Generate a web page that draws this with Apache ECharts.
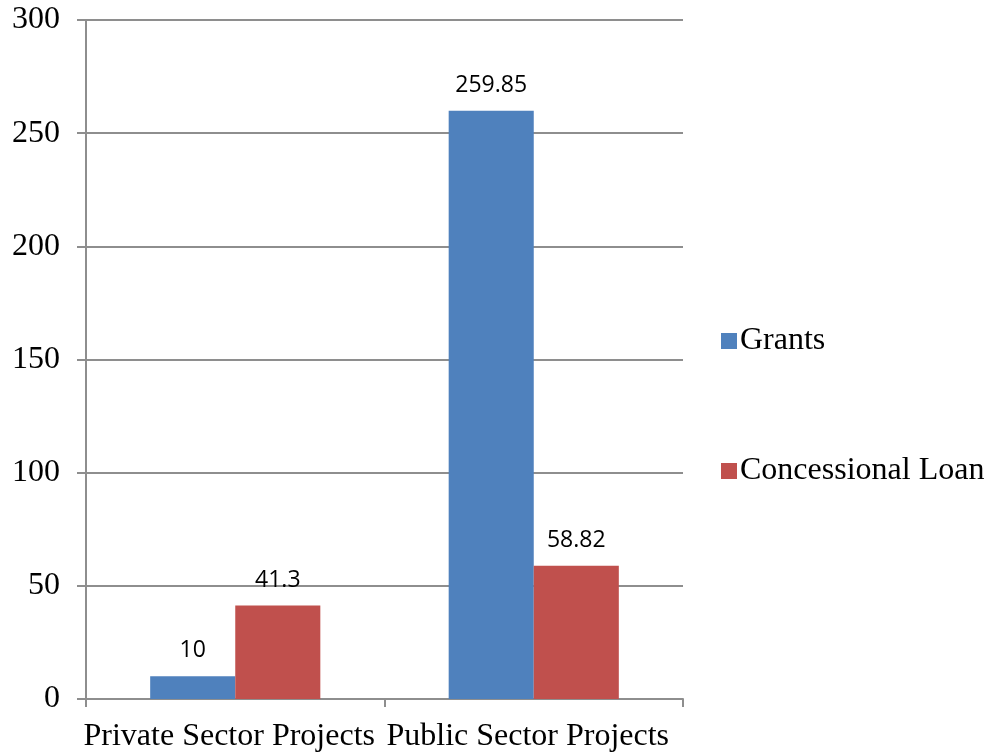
<!DOCTYPE html>
<html>
<head>
<meta charset="utf-8">
<script src="https://cdn.jsdelivr.net/npm/echarts@6/dist/echarts.min.js"></script>
<style>
  html, body { margin: 0; padding: 0; background: #fff; }
  #chart { width: 986px; height: 753px; }
</style>
</head>
<body>
<div id="chart"></div>
<script>
// Funding by project type
const categories = ['Private Sector Projects', 'Public Sector Projects'];
const grants = [10, 259.85];
const concessionalLoan = [41.3, 58.82];
const yTicks = [0, 50, 100, 150, 200, 250, 300];

const serif = '"Liberation Serif", "Times New Roman", serif';
const sans = '"Open Sans", "Liberation Sans", sans-serif';
const lineColor = '#8e8e8e';

const chart = echarts.init(document.getElementById('chart'));

const barLabel = {
  show: true,
  position: 'top',
  distance: 14,
  fontFamily: sans,
  fontSize: 23,
  color: '#000'
};

const legendText = { fontFamily: serif, fontSize: 32, color: '#000', padding: [0, 0, 0, -2] };

chart.setOption({
  animation: false,
  backgroundColor: '#fff',
  grid: { left: 86, right: 303, top: 20, bottom: 54, containLabel: false },
  legend: [
    {
      data: ['Grants'],
      left: 716, top: 320,
      itemWidth: 16, itemHeight: 16, itemGap: 0,
      icon: 'rect',
      textStyle: legendText
    },
    {
      data: ['Concessional Loan'],
      left: 716, top: 450,
      itemWidth: 16, itemHeight: 16, itemGap: 0,
      icon: 'rect',
      textStyle: legendText
    }
  ],
  xAxis: {
    type: 'category',
    data: categories,
    axisLine: { show: true, lineStyle: { color: lineColor, width: 2 } },
    axisTick: { show: true, length: 8, alignWithLabel: false, lineStyle: { color: lineColor, width: 2 } },
    axisLabel: {
      fontFamily: serif, fontSize: 32, color: '#000', margin: 22, interval: 0,
      padding: [0, 12, 0, 0]
    }
  },
  yAxis: {
    type: 'value',
    min: yTicks[0],
    max: yTicks[yTicks.length - 1],
    interval: yTicks[1] - yTicks[0],
    axisLine: { show: true, lineStyle: { color: lineColor, width: 2 } },
    axisTick: { show: true, length: 9, lineStyle: { color: lineColor, width: 2 } },
    splitLine: { show: true, lineStyle: { color: lineColor, width: 2 } },
    axisLabel: { fontFamily: serif, fontSize: 32, color: '#000', margin: 26 }
  },
  series: [
    {
      name: 'Grants',
      type: 'bar',
      data: grants,
      barWidth: '28.5%',
      barGap: '0%',
      itemStyle: { color: '#4F81BD' },
      label: barLabel
    },
    {
      name: 'Concessional Loan',
      type: 'bar',
      data: concessionalLoan,
      barWidth: '28.5%',
      barGap: '0%',
      itemStyle: { color: '#C0504D' },
      label: barLabel
    }
  ]
});
</script>
</body>
</html>
